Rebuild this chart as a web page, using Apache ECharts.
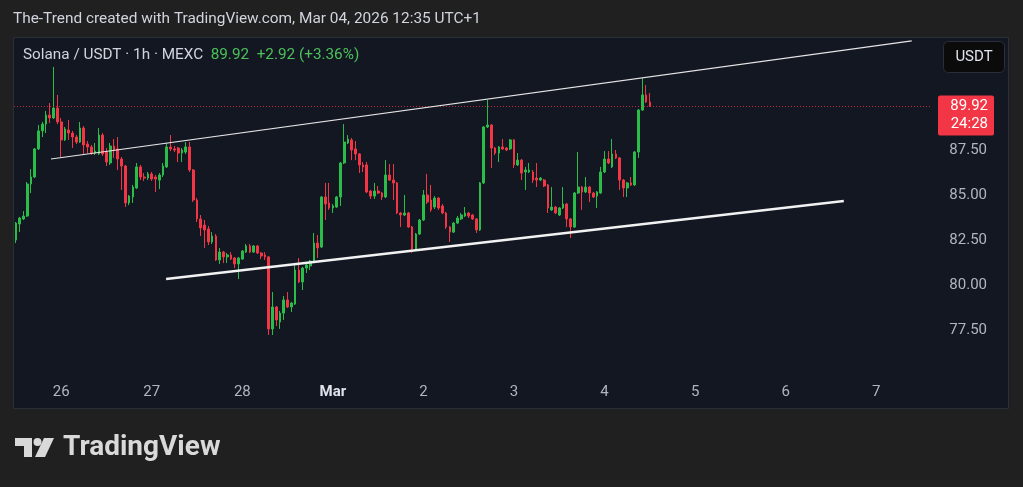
<!DOCTYPE html>
<html><head><meta charset="utf-8">
<script src="https://cdn.jsdelivr.net/npm/echarts@6/dist/echarts.min.js"></script>
<style>html,body{margin:0;padding:0;background:#202020;}#c{width:1023px;height:487px;}</style>
</head><body><div id="c"></div>
<script>
// hourly candles from Feb 25 12:00 (UTC+1) to Mar 4 12:00; [open, close, low, high]
const ohlc = [
[82.50,83.44,82.33,83.50],[83.39,83.72,82.94,83.78],[83.67,83.83,83.61,84.11],[83.83,85.61,83.78,85.72],
[85.61,86.00,85.11,86.44],[86.00,87.56,85.94,87.61],[87.56,88.56,87.50,88.89],[88.56,88.94,88.22,89.06],
[88.94,89.44,88.44,89.67],[89.44,89.28,89.00,90.11],[89.28,89.83,89.22,92.11],[89.83,89.06,88.94,90.56],
[89.06,88.06,87.11,89.28],[88.06,88.67,88.00,88.78],[88.61,88.44,88.06,89.17],[88.44,88.22,87.61,88.56],
[88.22,87.94,87.83,88.33],[87.94,88.72,87.89,89.06],[88.72,87.78,87.28,88.83],[87.83,87.67,87.33,88.00],
[87.67,87.33,87.22,87.78],[87.33,87.44,87.22,87.89],[87.28,88.33,87.22,88.72],[88.33,87.28,87.17,88.44],
[87.39,86.83,86.61,87.61],[86.78,87.72,86.67,87.89],[87.72,87.50,87.06,88.11],[87.56,87.00,86.39,88.22],
[87.00,86.61,85.28,87.11],[86.61,84.56,84.33,86.67],[84.56,84.94,84.44,85.00],[84.89,85.44,84.56,85.56],
[85.39,86.56,85.33,86.78],[86.56,86.00,85.83,86.67],[86.00,85.94,85.78,86.22],[85.94,86.17,85.83,86.28],
[86.17,85.89,85.78,86.28],[86.00,85.89,85.17,86.11],[85.83,86.11,85.33,86.22],[86.11,86.61,86.00,86.78],
[86.56,87.67,86.50,87.89],[87.67,87.56,87.44,88.33],[87.56,87.50,87.39,87.72],[87.61,87.33,86.83,87.67],
[87.33,87.50,86.83,87.61],[87.39,87.67,87.28,87.94],[87.67,86.39,86.28,87.94],[86.39,84.72,84.61,86.44],
[84.72,83.67,83.50,84.83],[83.67,83.17,82.72,83.89],[83.33,83.06,82.06,83.61],[83.11,82.39,82.22,83.28],
[82.39,82.72,82.28,82.94],[82.72,81.39,81.33,82.83],[81.39,81.83,81.17,82.06],[81.83,81.56,81.22,81.89],
[81.56,81.67,81.22,81.78],[81.67,81.44,81.39,81.83],[81.50,81.17,80.94,81.56],[81.17,81.50,80.33,81.56],
[81.44,81.89,81.39,81.94],[81.83,82.17,81.78,82.28],[82.17,81.83,81.78,82.28],[81.83,82.17,81.78,82.22],
[82.17,81.78,81.72,82.22],[81.78,81.61,81.44,81.83],[81.67,81.56,81.39,81.83],[81.56,77.56,77.22,81.61],
[77.56,78.78,77.22,79.61],[78.78,78.06,77.72,78.83],[77.94,78.44,77.56,78.56],[78.44,79.17,78.06,79.39],
[79.17,78.78,78.72,79.61],[78.78,79.00,78.50,79.06],[78.94,80.83,78.89,81.11],[80.83,80.17,80.11,81.50],
[80.17,80.94,79.72,81.00],[80.94,81.11,80.67,81.17],[81.06,81.33,80.83,81.39],[81.28,82.33,81.22,82.89],
[82.33,82.06,81.50,82.78],[82.11,84.89,82.06,84.94],[84.89,84.50,83.61,85.67],[84.56,84.28,84.17,85.67],
[84.28,84.39,84.00,84.50],[84.33,84.89,84.28,84.94],[84.89,86.78,84.39,86.83],[86.78,87.94,86.72,88.94],
[87.89,88.11,87.83,88.33],[88.06,87.50,86.94,88.17],[87.56,87.28,86.94,88.00],[87.28,86.67,86.22,87.33],
[86.67,86.56,86.28,86.83],[86.67,85.17,85.11,86.83],[85.22,84.94,84.78,85.28],[84.94,85.22,84.78,85.67],
[85.22,85.11,85.06,85.50],[85.11,84.89,84.72,85.17],[84.89,86.11,84.83,86.94],[86.11,85.83,85.78,86.72],
[85.83,85.67,84.72,86.72],[85.67,84.00,83.94,85.72],[84.00,83.89,83.22,84.06],[83.89,84.00,83.83,85.00],
[84.00,83.22,83.17,84.06],[83.22,82.00,81.78,83.28],[82.00,82.83,81.94,82.89],[82.83,83.61,82.78,83.67],
[83.61,85.00,83.56,85.28],[85.00,84.61,84.50,86.17],[84.72,84.17,84.06,85.56],[84.33,84.83,84.22,84.94],
[84.83,84.28,84.17,84.89],[84.39,84.00,83.94,84.50],[84.00,83.22,83.11,84.06],[83.22,82.94,82.39,83.28],
[82.94,83.44,82.89,83.50],[83.44,83.72,83.39,83.83],[83.67,83.89,83.61,84.00],[83.83,84.00,83.78,84.33],
[84.00,83.83,83.72,84.06],[83.89,83.67,83.61,83.94],[83.67,83.06,82.89,83.72],[83.06,85.67,83.00,85.72],
[85.67,88.78,85.61,88.83],[88.78,88.89,88.72,90.28],[88.89,87.61,86.50,88.94],[87.61,87.33,87.22,87.67],
[87.33,87.67,86.83,87.72],[87.67,87.56,87.50,88.11],[87.61,87.50,87.44,87.67],[87.56,88.06,87.50,88.11],
[88.06,86.67,86.50,88.11],[86.67,86.94,86.61,87.33],[86.94,86.22,85.83,87.00],[86.28,86.39,85.28,86.56],
[86.28,86.39,86.22,86.78],[86.28,85.83,85.67,86.39],[85.94,85.83,85.44,86.78],[85.83,85.94,85.78,86.00],
[85.83,85.50,85.44,85.89],[85.56,84.28,84.00,85.61],[84.17,84.33,84.11,85.44],[84.33,84.00,83.94,84.39],
[83.89,84.28,83.83,84.33],[84.28,84.50,84.22,85.44],[84.50,83.67,83.22,84.56],[83.67,83.22,82.61,83.72],
[83.22,85.11,83.17,85.17],[85.11,85.44,85.06,87.39],[85.44,85.17,84.17,85.50],[85.17,85.44,85.11,86.00],
[85.44,85.11,84.61,85.50],[85.11,84.89,84.83,85.17],[84.94,85.17,84.28,85.22],[85.11,86.28,85.06,86.56],
[86.28,87.00,86.22,87.44],[87.00,86.78,86.72,87.44],[86.56,87.28,86.50,88.11],[87.28,87.06,87.00,87.50],
[87.06,85.83,85.28,87.11],[85.83,85.39,84.89,85.89],[85.39,85.67,84.89,85.72],[85.67,85.56,85.50,86.00],
[85.56,87.39,85.50,87.44],[87.39,89.72,87.06,89.78],[89.72,90.56,89.67,91.50],[90.56,90.17,90.11,91.11],
[90.17,89.92,89.89,90.67]
];
const hoursOnAxis = 243;            // hourly slots on the time axis (data + right margin)
const firstHourOfDay = 12;          // first candle is 12:00
const dayTickLabels = ['26','27','28','Mar','2','3','4','5','6','7'];
const priceTicks = [77.5, 80, 82.5, 85, 87.5];
const lastPrice = 89.92;
const countdown = '24:28';
// trendlines: [hour index, price]
const upperTrend = [[9.3, 87.00], [237.4, 93.56]];
const lowerTrend = [[39.8, 80.33], [219.4, 84.67]];

const UP = '#2bbd4a', DOWN = '#f23645';
const categories = [];
for (let i = 0; i < hoursOnAxis; i++) categories.push(String(i));
const candleData = categories.map((c, i) => i < ohlc.length ? ohlc[i] : '-');

const chart = echarts.init(document.getElementById('c'), null, {renderer: 'canvas'});
const GRID = {left: 14, top: 37, width: 917, height: 341};
chart.setOption({
  animation: false,
  backgroundColor: '#202020',
  grid: Object.assign({outerBoundsMode: 'none', containLabel: false}, GRID),
  xAxis: [{
    type: 'category', data: categories, boundaryGap: true,
    axisLine: {show: false}, axisTick: {show: false}, splitLine: {show: false},
    axisLabel: {
      color: '#b2b5be', fontSize: 15, fontFamily: 'Roboto', margin: 7,
      interval: (idx) => (idx + firstHourOfDay) % 24 === 0,
      formatter: (v) => {
        const k = (Number(v) + firstHourOfDay) / 24 - 1;
        const t = dayTickLabels[k] || '';
        return t === 'Mar' ? '{b|' + t + '}' : t;
      },
      rich: {b: {color: '#e0e3eb', fontWeight: 'bold', fontSize: 15, fontFamily: 'Roboto'}}
    }
  }, {
    type: 'value', show: false, min: -0.5, max: hoursOnAxis - 0.5
  }],
  yAxis: {
    type: 'value', position: 'right', min: 74.8333, max: 93.7778,
    axisLine: {show: false}, axisTick: {show: false}, splitLine: {show: false},
    axisLabel: {
      customValues: priceTicks, color: '#b2b5be', fontSize: 15, fontFamily: 'Roboto',
      align: 'right', margin: 56, formatter: (v) => v.toFixed(2)
    }
  },
  series: [{
    type: 'candlestick', data: candleData, barWidth: 2.2,
    itemStyle: {color: UP, color0: DOWN, borderColor: UP, borderColor0: DOWN, borderWidth: 1},
    markLine: {
      silent: true, symbol: 'none', label: {show: false},
      lineStyle: {color: 'rgba(242,54,69,0.75)', type: [1, 2], width: 1},
      data: [{yAxis: lastPrice}]
    }
  }, {
    type: 'line', xAxisIndex: 1, data: upperTrend, symbol: 'none', silent: true,
    lineStyle: {color: '#e6e6e6', width: 1.2}, z: 5
  }, {
    type: 'line', xAxisIndex: 1, data: lowerTrend, symbol: 'none', silent: true,
    lineStyle: {color: '#f2f2f2', width: 2.6}, z: 5
  }]
});

const py = chart.convertToPixel({yAxisIndex: 0}, lastPrice);
chart.setOption({
  graphic: [
    {type: 'rect', z: -10, silent: true, shape: {x: 13.5, y: 37.5, width: 995, height: 371},
     style: {fill: '#131722', stroke: '#2a2e39', lineWidth: 1}},
    {type: 'text', silent: true, x: 13, y: 19, style: {text: 'The-Trend created with TradingView.com, Mar 04, 2026 12:35 UTC+1',
      fill: '#d1d4dc', font: '15.4px Roboto', verticalAlign: 'middle'}},
    {type: 'text', silent: true, x: 23, y: 55, style: {
      text: 'Solana / USDT · 1h · MEXC  {g|' + lastPrice.toFixed(2) + '  +2.92 (+3.36%)}',
      fill: '#d1d4dc', font: '15.3px Roboto', verticalAlign: 'middle',
      rich: {g: {fill: '#4cc15a', font: '15.3px Roboto'}}}},
    {type: 'rect', silent: true, shape: {x: 943.5, y: 41.5, width: 61, height: 31, r: 5},
     style: {fill: '#0b0b0c', stroke: '#2a2e39', lineWidth: 1}},
    {type: 'text', silent: true, x: 974, y: 57, style: {text: 'USDT', fill: '#e0e3eb', font: '15px Roboto', align: 'center', verticalAlign: 'middle'}},
    {type: 'rect', silent: true, shape: {x: 938, y: py - 11, width: 56, height: 40, r: 2}, style: {fill: '#f23645'}},
    {type: 'text', silent: true, x: 988, y: py - 0.5, style: {text: lastPrice.toFixed(2), fill: '#ffffff', font: '15px Roboto', align: 'right', verticalAlign: 'middle'}},
    {type: 'text', silent: true, x: 988, y: py + 18, style: {text: countdown, fill: '#ffffff', font: '15px Roboto', align: 'right', verticalAlign: 'middle'}},
    // TradingView logo
    {type: 'polygon', silent: true, shape: {points: [[15,438],[32,438],[32,457],[24,457],[24,446],[15,446]]}, style: {fill: '#d9d9d9'}},
    {type: 'circle', silent: true, shape: {cx: 37.5, cy: 442, r: 4}, style: {fill: '#d9d9d9'}},
    {type: 'polygon', silent: true, shape: {points: [[44,438],[54,438],[45,457],[35,457]]}, style: {fill: '#d9d9d9'}},
    {type: 'text', silent: true, x: 63, y: 448, style: {text: 'TradingView', fill: '#d9d9d9', font: 'bold 28px Roboto', verticalAlign: 'middle'}}
  ]
});
</script></body></html>
